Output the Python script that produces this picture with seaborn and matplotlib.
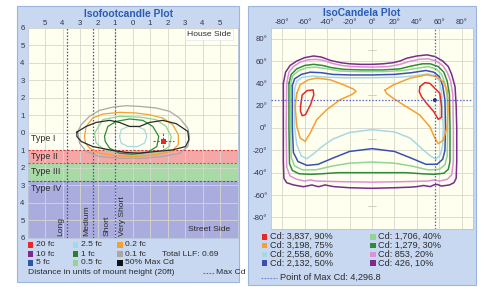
import numpy as np
import pandas as pd
import seaborn as sns
import matplotlib.pyplot as plt
from matplotlib.patches import Rectangle
from matplotlib.lines import Line2D

sns.set_style("white")
plt.rcParams['font.family'] = ['Liberation Sans', 'DejaVu Sans']

W, H = 482, 287

# ---------------- left panel: isofootcandle (units of mount height) ----------------
lateral_lines = [-3.75, -2.25, -1.0]
lateral_names = ["Long", "Medium", "Short", "Very Short"]
lateral_label_x = [-4.1, -2.62, -1.47, -0.57]
type_edges = [0.0, -1.0, -1.75, -2.75, -6.0]
type_names = ["Type I", "Type II", "Type III", "Type IV"]
type_label_y = [-0.35, -1.38, -2.2, -3.22]

fc_01 = [(-3.12, 0.08), (-2.93, 0.46), (-2.46, 0.94), (-1.89, 1.28), (-1.12, 1.47), (-0.36, 1.55),
         (0.40, 1.51), (1.35, 1.42), (2.11, 1.23), (2.69, 0.84), (3.16, 0.26), (3.26, -0.21),
         (3.16, -0.79), (2.69, -1.17), (1.73, -1.36), (0.59, -1.46), (-0.74, -1.46), (-1.89, -1.36),
         (-2.65, -1.07), (-3.03, -0.59)]
fc_02 = [(-2.74, -0.21), (-2.65, 0.36), (-2.27, 0.84), (-1.70, 1.07), (-0.74, 1.17), (0.21, 1.13),
         (0.97, 1.03), (1.73, 0.84), (2.30, 0.46), (2.62, -0.11), (2.62, -0.69), (2.21, -1.07),
         (1.35, -1.26), (0.21, -1.36), (-0.93, -1.32), (-1.89, -1.17), (-2.46, -0.88), (-2.69, -0.59)]
fc_05 = [(-2.17, -0.02), (-1.70, 0.75), (-0.74, 0.94), (0.40, 0.90), (1.35, 0.75), (1.92, 0.36),
         (2.21, -0.21), (2.11, -0.79), (1.54, -1.13), (0.40, -1.23), (-0.74, -1.17), (-1.60, -0.98),
         (-2.08, -0.59)]
fc_1 = [(-1.60, -0.21), (-1.41, 0.36), (-0.93, 0.65), (-0.17, 0.79), (0.59, 0.71), (1.16, 0.36),
        (1.50, -0.21), (1.39, -0.79), (0.88, -1.11), (0.02, -1.23), (-0.74, -1.17), (-1.31, -0.88),
        (-1.56, -0.50)]
fc_25 = [(-0.74, -0.21), (-0.65, 0.17), (-0.27, 0.36), (0.30, 0.36), (0.69, 0.17), (0.82, -0.21),
         (0.69, -0.59), (0.30, -0.79), (-0.27, -0.79), (-0.65, -0.59)]
half_max = [(-3.18, 0.04), (-2.65, 0.36), (-2.08, 0.59), (-1.31, 0.71), (-0.74, 0.59), (-0.17, 0.36),
            (0.40, 0.36), (0.97, 0.59), (1.73, 0.71), (2.50, 0.52), (3.16, 0.08), (3.22, -0.40),
            (3.03, -0.79), (2.30, -0.98), (1.35, -1.07), (0.40, -1.17), (-0.36, -1.13), (-1.31, -0.98),
            (-2.27, -0.79), (-2.93, -0.50), (-3.18, -0.21)]
max_fc_point = (1.77, -0.5)

left_contours = [(fc_01, "#a8a8a8"), (fc_02, "#f5a030"), (fc_05, "#93d493"),
                 (fc_1, "#2e8b3a"), (fc_25, "#a6d8e2"), (half_max, "#2a2a2a")]

left_legend_labels = ["20 fc", "10 fc", "5 fc", "2.5 fc", "1 fc", "0.5 fc", "0.2 fc", "0.1 fc", "50% Max Cd"]
left_legend_colors = ["#e82828", "#7b2a8e", "#2d56a8", "#a6d8e2", "#2e7d32", "#93d493",
                      "#f5a030", "#a8a8a8", "#111111"]

# ---------------- right panel: isocandela (degrees) ----------------
cd_values = [3837, 3198, 2558, 2132, 1706, 1279, 853, 426]
cd_pcts = [90, 75, 60, 50, 40, 30, 20, 10]
cd_colors = ["#e82828", "#f5a030", "#a6d8e2", "#3a4fb0", "#93d493", "#2e8b3a", "#dc90d6", "#7b2a8e"]
max_cd = 4296.8
max_cd_point = (56, 25)

cd_10 = [(-79, 40), (-77, 50), (-73, 56), (-67, 60), (-60, 63), (-52, 64.5), (-45, 63.5), (-37, 60.5),
         (-28, 58.5), (-20, 57.5), (-10, 57), (0, 57), (10, 57.5), (19, 58.5), (25, 60), (31, 62.5),
         (40, 64.5), (49, 65.5), (56, 64), (63, 60), (68, 55), (71, 48), (74, 37), (75, 20), (75.5, 0),
         (75.5, -30), (75, -45), (73, -49), (69, -51), (62, -52), (58, -50.5), (55, -51), (52, -52.5),
         (46, -51.5), (40, -52.5), (34, -53), (20, -53.5), (0, -54), (-20, -53.5), (-34, -52.5),
         (-41.8, -51), (-47.7, -52.6), (-53.6, -51), (-61, -52.6), (-70, -51), (-76, -49),
         (-78.5, -45), (-79, -30), (-79, 0)]
cd_20 = [(-76, 40), (-74, 50), (-70, 55), (-64, 59), (-57, 61), (-50, 61.5), (-43, 60.5), (-36, 58),
         (-27, 56), (-18, 55), (0, 54.5), (15, 55), (25, 57), (33, 59.5), (42, 61.5), (50, 62), (57, 60),
         (63, 56), (67, 50), (70, 42), (72, 30), (72.5, 0), (72.5, -30), (71, -42), (67, -46), (60, -47.5),
         (55, -46.5), (50, -47.5), (30, -48), (0, -48.5), (-30, -48), (-50, -47.5), (-55, -46.5),
         (-60, -47.5), (-67, -46), (-73, -43), (-76, -35), (-76.5, 0)]
cd_30 = [(-74, 40), (-72, 48), (-67, 53), (-60, 56), (-52, 57), (-44, 56), (-36, 54), (-25, 52.5),
         (-10, 52), (10, 52), (25, 53), (35, 55.5), (45, 57.5), (52, 57.5), (59, 55), (64, 50), (67, 42),
         (69, 30), (69.5, 0), (69.5, -30), (68, -37), (64, -40.5), (55, -41.5), (45, -41), (30, -40),
         (0, -40), (-30, -40), (-45, -41), (-55, -41.5), (-65, -41), (-71, -38), (-73.5, -32), (-74, 0)]
cd_40 = [(-72.5, 40), (-70.5, 47), (-65, 51.5), (-58, 54), (-50, 54.5), (-40, 53), (-28, 51),
         (-10, 50.5), (10, 50.5), (28, 51.5), (40, 53.5), (50, 55), (57, 53), (62, 48), (65, 40),
         (67, 28), (67.5, 0), (67, -25), (65, -33), (60, -37), (50, -37.5), (35, -34), (20, -31.5),
         (0, -30.5), (-20, -31.5), (-35, -34), (-50, -37.5), (-62, -37.5), (-69, -34), (-72, -26),
         (-72.5, 0)]
cd_50 = [(-71, 38), (-69, 44), (-63, 48), (-55, 50), (-45, 49.5), (-35, 48), (-20, 47.5), (0, 47.5),
         (20, 48), (35, 49.5), (48, 51.5), (55, 50), (60, 46), (63, 38), (65, 25), (65.5, 0), (65, -20),
         (63, -28), (58, -32.5), (48, -32.5), (35, -27), (20, -21), (0, -18.5), (-20, -21), (-35, -27),
         (-48, -32.5), (-58, -33.5), (-66, -30), (-70, -22), (-71, 0)]
cd_60 = [(-69, 35), (-67, 42), (-62, 45.5), (-52, 46.5), (-40, 45.5), (-25, 45), (0, 45), (25, 45.5),
         (40, 47), (50, 48.5), (56, 47), (60, 42), (62, 32), (63.5, 0), (63, -15), (61, -24), (57, -28),
         (52, -25), (45, -19), (34, -9), (20, -3.5), (0, -1.5), (-20, -4), (-35, -10), (-45, -17),
         (-52, -23), (-58, -27.5), (-63, -25), (-67, -15), (-69, 0)]
cd_75_left = [(-67, 31), (-64, 38.8), (-56.6, 43.2), (-49.2, 44.7), (-37.3, 43.2), (-25.5, 38.8),
              (-16.6, 34.9), (-14.2, 32.8), (-18, 29.9), (-28.4, 25.4), (-40.3, 16.4), (-49.2, 7.5),
              (-55.1, -4.5), (-59.6, -12), (-64, -9), (-67, 1.5), (-68.5, 19.4)]
cd_75_right = [(11.6, 34), (19, 38.6), (33.8, 44.6), (48.6, 47.6), (57.5, 46), (63.4, 41.6), (67, 34),
               (67.9, 19), (67, 1), (63.4, -11), (59, -14), (56, -9), (51.6, 1), (42.7, 11.5),
               (30.8, 19), (19, 26.5), (13, 31)]
cd_90_left = [(-63.7, 19.4), (-62.2, 29.6), (-57.8, 33.5), (-52.4, 34.1), (-51.9, 29.6), (-54.8, 20.9),
              (-59.3, 11.9), (-62.2, 11), (-63.7, 14.9)]
cd_90_right = [(42.7, 37), (47.1, 40.6), (51.6, 40), (60.4, 31.1), (61.9, 19.1), (61.9, 9.6), (59, 7.8),
               (55.1, 14.6), (48.6, 22.1), (44.1, 28.1), (42.1, 32.6)]

right_contours = [(cd_10, cd_colors[7]), (cd_20, cd_colors[6]), (cd_30, cd_colors[5]),
                  (cd_40, cd_colors[4]), (cd_50, cd_colors[3]), (cd_60, cd_colors[2]),
                  (cd_75_left, cd_colors[1]), (cd_75_right, cd_colors[1]),
                  (cd_90_left, cd_colors[0]), (cd_90_right, cd_colors[0])]


def fx(px):
    return px / W


def fy(py):
    return 1 - py / H


def draw_loop(ax, pts, color, lw):
    df = pd.DataFrame(pts + [pts[0]], columns=["x", "y"])
    sns.lineplot(data=df, x="x", y="y", sort=False, estimator=None, color=color,
                 linewidth=lw, ax=ax, zorder=5, solid_joinstyle="round")


fig = plt.figure(figsize=(W / 100, H / 100), dpi=100)
fig.patch.set_facecolor("white")

frame_fc, frame_ec = "#c8d8f1", "#9cb5df"
title_color = "#2a5cb5"
txt = "#2b2b2b"
fs = 6.1
fig.add_artist(Rectangle((fx(17), fy(282)), fx(239) - fx(17), fy(6) - fy(282),
                         transform=fig.transFigure, fc=frame_fc, ec=frame_ec, lw=0.8, zorder=-5))
fig.add_artist(Rectangle((fx(248), fy(285)), fx(476) - fx(248), fy(6) - fy(285),
                         transform=fig.transFigure, fc=frame_fc, ec=frame_ec, lw=0.8, zorder=-5))

# ---------------- left axes ----------------
axl = fig.add_axes([fx(27.5), fy(237.5), fx(237.5) - fx(27.5), fy(28) - fy(237.5)])
axl.set_facecolor("#fffff0")
axl.set_xlim(-6, 6)
axl.set_ylim(-6, 6)
band_colors = ["#fffff4", "#f5a7a7", "#a9d9a5", "#a9acdc"]
edge_colors = [None, "#e03535", "#38a048", "#4455b5"]
for i in range(4):
    axl.axhspan(type_edges[i + 1], type_edges[i], color=band_colors[i], zorder=0, lw=0)
    if edge_colors[i]:
        axl.axhline(type_edges[i], color=edge_colors[i], lw=0.8, ls=(0, (2, 1.5)), zorder=3)
    axl.text(-5.8, type_label_y[i], type_names[i], fontsize=6.4, color=txt, va="center", ha="left",
             zorder=6)
axl.grid(True, color="#d6d6cc", lw=0.6, zorder=1)
axl.set_axisbelow(False)
for xv in lateral_lines:
    axl.axvline(xv, color="#3a55a5", lw=0.9, ls=(0, (1.2, 1.4)), zorder=4)
for xv, name in zip(lateral_label_x, lateral_names):
    axl.text(xv, -5.92, name, rotation=90, fontsize=fs, color=txt, ha="center", va="bottom", zorder=6)

for pts, col in left_contours:
    draw_loop(axl, pts, col, 0.9)
mx, my = max_fc_point
axl.plot([mx - 0.6, mx + 0.6], [my, my], color="#e82828", lw=0.8, ls=(0, (2, 1.5)), zorder=6)
axl.plot([mx, mx], [my - 0.55, my + 0.55], color="#e82828", lw=0.8, ls=(0, (2, 1.5)), zorder=6)
sns.scatterplot(x=[mx], y=[my], marker="s", s=10, color="#e82828", edgecolor="none", ax=axl, zorder=7)

axl.text(4.35, 5.62, "House Side", fontsize=fs, color=txt, ha="center", va="center", zorder=6,
         bbox=dict(fc="white", ec="#dddddd", lw=0.4, pad=1.4))
axl.text(4.4, -5.52, "Street Side", fontsize=fs, color=txt, ha="center", va="center", zorder=6)

xt = list(range(-5, 6))
axl.set_xticks(xt)
axl.set_xticklabels([str(abs(v)) for v in xt])
yt = list(range(-6, 7))
axl.set_yticks(yt)
axl.set_yticklabels([str(abs(v)) for v in yt])
axl.xaxis.tick_top()
axl.tick_params(axis="both", length=0, labelsize=5.6, labelcolor="#333344")
axl.tick_params(axis="x", pad=1.0)
axl.tick_params(axis="y", pad=2.0)
axl.set_xlabel("")
axl.set_ylabel("")
for s in axl.spines.values():
    s.set_color("#b8c4d8")
    s.set_linewidth(0.6)

fig.text(fx(128), fy(14), "Isofootcandle Plot", fontsize=7.4, fontweight="bold", color=title_color,
         ha="center", va="center")

# left legend
for i, (lab, col) in enumerate(zip(left_legend_labels, left_legend_colors)):
    c, r = divmod(i, 3)
    x0 = [27.5, 72.7, 117.2][c]
    yc = [245, 254, 263][r]
    fig.add_artist(Rectangle((fx(x0), fy(yc + 2.8)), fx(5.6), 5.6 / H, transform=fig.transFigure,
                             fc=col, ec="none"))
    fig.text(fx(x0 + 8), fy(yc), lab, fontsize=fs, color=txt, ha="left", va="center")
fig.text(fx(162), fy(254), "Total LLF: 0.69", fontsize=fs, color=txt, ha="left", va="center")
fig.text(fx(28), fy(272.5), "Distance in units of mount height (20ft)", fontsize=fs, color=txt,
         ha="left", va="center")
fig.add_artist(Line2D([fx(203), fx(214)], [fy(272.5), fy(272.5)], transform=fig.transFigure,
                      color="#e04040", lw=0.8, ls=(0, (1.5, 1.2))))
fig.text(fx(216.5), fy(272.5), "Max Cd", fontsize=fs, color=txt, ha="left", va="center")

# ---------------- right axes ----------------
axr = fig.add_axes([fx(271), fy(228.5), fx(473) - fx(271), fy(27.5) - fy(228.5)])
axr.set_facecolor("#fffff0")
axr.set_xlim(-90, 90)
axr.set_ylim(-90, 90)
ticks = list(range(-80, 81, 20))
axr.set_xticks(ticks)
axr.set_xticklabels([f"{v}\u00b0" for v in ticks])
axr.set_yticks(ticks)
axr.set_yticklabels([f"{v}\u00b0" for v in ticks])
axr.xaxis.tick_top()
axr.tick_params(axis="both", length=0, labelsize=5.6, labelcolor="#333344")
axr.tick_params(axis="x", pad=1.0)
axr.tick_params(axis="y", pad=2.5)
axr.grid(True, color="#d6d6cc", lw=0.6, zorder=1)
for yv in [70, 30, -10, -70]:
    axr.plot([-4, 4], [yv, yv], color="#c8c8c0", lw=0.6, zorder=2)

for pts, col in right_contours:
    draw_loop(axr, pts, col, 1.1)

px_, py_ = max_cd_point
axr.axvline(px_, color="#5566c4", lw=0.9, ls=(0, (1.2, 1.4)), zorder=6)
axr.axhline(py_, color="#5566c4", lw=0.9, ls=(0, (1.2, 1.4)), zorder=6)
sns.scatterplot(x=[px_], y=[py_], s=8, color="#1f2f8a", edgecolor="none", ax=axr, zorder=7)
axr.set_xlabel("")
axr.set_ylabel("")
for s in axr.spines.values():
    s.set_color("#b8c4d8")
    s.set_linewidth(0.6)

fig.text(fx(362), fy(13.5), "IsoCandela Plot", fontsize=7.4, fontweight="bold", color=title_color,
         ha="center", va="center")

# right legend
for i, (v, p, col) in enumerate(zip(cd_values, cd_pcts, cd_colors)):
    c, r = divmod(i, 4)
    x0 = [261.7, 370][c]
    yc = [236.7, 245.5, 254.3, 263][r]
    fig.add_artist(Rectangle((fx(x0), fy(yc + 2.8)), fx(5.6), 5.6 / H, transform=fig.transFigure,
                             fc=col, ec="none"))
    fig.text(fx(x0 + 8.5), fy(yc), f"Cd: {v:,}, {p}%", fontsize=6.6, color=txt, ha="left", va="center")
fig.add_artist(Line2D([fx(261), fx(277)], [fy(277.7), fy(277.7)], transform=fig.transFigure,
                      color="#7080c8", lw=0.8, ls=(0, (1.5, 1.2))))
fig.text(fx(280.5), fy(277.7), f"Point of Max Cd: {max_cd:,}", fontsize=6.6, color=txt,
         ha="left", va="center")

fig.savefig("out.png", dpi=100)
